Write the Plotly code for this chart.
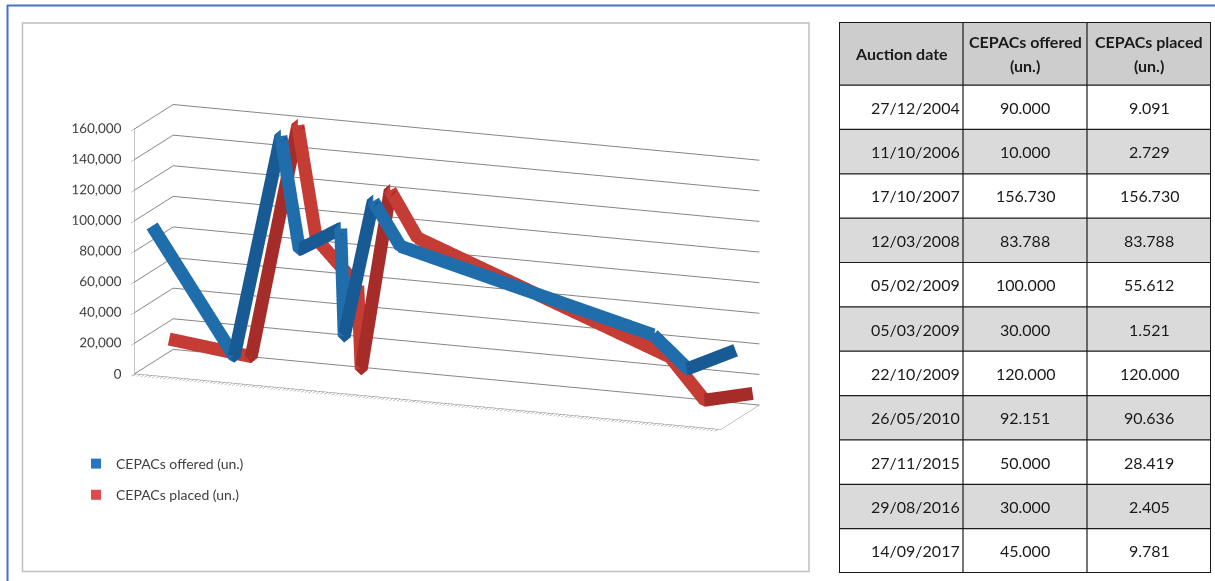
import numpy as np
import pandas as pd
import plotly.graph_objects as go

# Auction data
auction_dates = ["27/12/2004", "11/10/2006", "17/10/2007", "12/03/2008", "05/02/2009",
                 "05/03/2009", "22/10/2009", "26/05/2010", "27/11/2015", "29/08/2016",
                 "14/09/2017"]
cepacs_offered = [90000, 10000, 156730, 83788, 100000, 30000, 120000, 92151, 50000, 30000, 45000]
cepacs_placed = [9091, 2729, 156730, 83788, 55612, 1521, 120000, 90636, 28419, 2405, 9781]
series_names = ["CEPACs offered (un.)", "CEPACs placed (un.)"]
table_headers = [["Auction date"], ["CEPACs offered", "(un.)"], ["CEPACs placed", "(un.)"]]
value_ticks = [0, 20000, 40000, 60000, 80000, 100000, 120000, 140000, 160000]

W, H = 1215, 581
BLUE_LIGHT, BLUE_DARK = "#1f6dab", "#185a93"
RED_LIGHT, RED_DARK = "#c43c33", "#a52c28"
LEG_BLUE = "#2774c0"
LEG_RED = "#e04a4a"
FONT = "Lato, Calibri, sans-serif"
TXT = "#1a1a1a"
AXIS_TXT = "#404040"

# dates -> fractional years for a continuous time axis
d = pd.to_datetime(auction_dates, dayfirst=True)
t = (d.year + (d.dayofyear - 1) / (365 + d.is_leap_year.astype(int))).to_numpy()
t_lo, t_hi = t.min() - 0.03, t.max() + 0.03
depth_lo, depth_hi = -0.95, 1.32


def px(x):
    return x / W


def py(y):
    return 1 - y / H


def fmt(v):
    return f"{v:,}".replace(",", ".")


def shaded_path(xs, zs):
    """Split the polyline per segment so rising parts can be drawn darker."""
    xs, zs = np.asarray(xs, float), np.asarray(zs, float)
    px_, pz_, shade = [], [], []
    for k in range(len(xs) - 1):
        s = 1.0 if zs[k + 1] > zs[k] else 0.0
        px_ += [xs[k], xs[k + 1]]
        pz_ += [zs[k], zs[k + 1]]
        shade += [s, s]
    return px_, pz_, shade


fig = go.Figure()

# 3D ribbons, one depth row per series
for depth, vals, light, dark in [(1, cepacs_placed, RED_LIGHT, RED_DARK),
                                 (0, cepacs_offered, BLUE_LIGHT, BLUE_DARK)]:
    xs, zs, shade = shaded_path(t, vals)
    fig.add_trace(go.Scatter3d(
        x=xs, y=[depth] * len(xs), z=zs, mode="lines",
        line=dict(color=shade, colorscale=[[0, light], [1, dark]], cmin=0, cmax=1,
                  width=26),
        showlegend=False, hoverinfo="skip", scene="scene"))

# value-axis labels along the front-left vertical edge of the box
fig.add_trace(go.Scatter3d(
    x=[t_lo] * len(value_ticks), y=[depth_lo] * len(value_ticks), z=value_ticks,
    mode="text", text=[f"{v:,}" for v in value_ticks], textposition="middle left",
    textfont=dict(family=FONT, size=13.5, color=AXIS_TXT),
    showlegend=False, hoverinfo="skip", scene="scene"))

# legend entries with square swatches
for name, col, grp in [(series_names[0], LEG_BLUE, "a"), (series_names[1], LEG_RED, "b")]:
    fig.add_trace(go.Scatter(x=[None], y=[None], mode="markers", name=name,
                             legendgroup=grp,
                             marker=dict(symbol="square", size=10, color=col)))

# ---- data table on its own hidden cartesian axes ----
n_rows = len(auction_dates)
head_h = 63 / 44.3          # header height in row units
shapes = []
annotations = []
col_values = [auction_dates, [fmt(v) for v in cepacs_offered], [fmt(v) for v in cepacs_placed]]

shapes.append(dict(type="rect", xref="x2", yref="y2", x0=0, x1=3, y0=-head_h, y1=0,
                   fillcolor="#cdcdcd", line=dict(width=0), layer="below"))
for i in range(n_rows):
    if i % 2 == 1:
        shapes.append(dict(type="rect", xref="x2", yref="y2", x0=0, x1=3, y0=i, y1=i + 1,
                           fillcolor="#dadada", line=dict(width=0), layer="below"))
for i in range(n_rows):
    shapes.append(dict(type="line", xref="x2", yref="y2", x0=0, x1=3, y0=i, y1=i,
                       line=dict(color=TXT, width=1.2)))
for c in (1, 2):
    shapes.append(dict(type="line", xref="x2", yref="y2", x0=c, x1=c, y0=-head_h,
                       y1=n_rows, line=dict(color=TXT, width=1.2)))
shapes.append(dict(type="rect", xref="x2", yref="y2", x0=0, x1=3, y0=-head_h, y1=n_rows,
                   line=dict(color=TXT, width=2)))

for c, lines in enumerate(table_headers):
    k = len(lines)
    for j, ln in enumerate(lines):
        yy = -head_h / 2 + (j - (k - 1) / 2) * 0.54
        annotations.append(dict(xref="x2", yref="y2", x=c + 0.5, y=yy, text=f"<b>{ln}</b>",
                                showarrow=False, xanchor="center", yanchor="middle",
                                font=dict(family=FONT, size=16, color=TXT)))
for c, vals in enumerate(col_values):
    for i, v in enumerate(vals):
        if c == 0:
            ax, xa = 0.99, "right"
        else:
            ax, xa = c + 0.5, "center"
        annotations.append(dict(xref="x2", yref="y2", x=ax, y=i + 0.5, text=v,
                                showarrow=False, xanchor=xa, yanchor="middle",
                                font=dict(family=FONT, size=16, color=TXT)))

# frame decorations
shapes += [
    dict(type="rect", xref="paper", yref="paper", x0=px(22.5), x1=px(809),
         y0=py(571.5), y1=py(23), line=dict(color="#bfbfbf", width=1.5)),
    dict(type="line", xref="paper", yref="paper", x0=px(7), x1=1,
         y0=py(5.5), y1=py(5.5), line=dict(color="#4a6fc9", width=2)),
    dict(type="line", xref="paper", yref="paper", x0=px(7.5), x1=px(7.5),
         y0=py(5), y1=0, line=dict(color="#4a6fc9", width=2)),
]

axis_common = dict(showspikes=False, zeroline=False, title=dict(text=""),
                   showbackground=False)

view_dir = np.array([0.3506, -0.9039, 0.245])
eye = 2.87 * view_dir

fig.update_layout(
    width=W, height=H, margin=dict(l=0, r=0, t=0, b=0),
    paper_bgcolor="white", plot_bgcolor="white",
    font=dict(family=FONT, color=AXIS_TXT),
    xaxis=dict(visible=False, domain=[0, 0.05]), yaxis=dict(visible=False, domain=[0, 0.05]),
    xaxis2=dict(visible=False, domain=[px(839), px(1211)], range=[0, 3], fixedrange=True),
    yaxis2=dict(visible=False, domain=[py(573), py(22)], range=[n_rows, -head_h],
                fixedrange=True),
    showlegend=True,
    legend=dict(x=px(76), y=py(448), xanchor="left", yanchor="top",
                bgcolor="rgba(0,0,0,0)", tracegroupgap=10,
                font=dict(family=FONT, size=14, color=AXIS_TXT)),
    scene=dict(
        domain=dict(x=[px(9.5), px(883.5)], y=[py(534), 1]),
        xaxis=dict(range=[t_lo, t_hi], showgrid=False, showticklabels=False,
                   ticks="outside", tick0=2005, dtick=1 / 12, ticklen=5,
                   tickcolor="#595959", showline=True, linecolor="#8a8a8a",
                   **axis_common),
        yaxis=dict(range=[depth_lo, depth_hi], showgrid=False, showticklabels=False,
                   ticks="", showline=True, linecolor="#8a8a8a", **axis_common),
        zaxis=dict(range=[0, 160000], tickvals=value_ticks, showticklabels=False,
                   gridcolor="#858585", gridwidth=2, showline=True,
                   linecolor="#8a8a8a", ticks="outside", ticklen=3,
                   tickcolor="#8a8a8a", **axis_common),
        aspectmode="manual", aspectratio=dict(x=2.355, y=0.40, z=0.946),
        camera=dict(eye=dict(x=eye[0], y=eye[1], z=eye[2]),
                    center=dict(x=0, y=0, z=0), up=dict(x=0, y=0, z=1),
                    projection=dict(type="orthographic")),
        bgcolor="rgba(0,0,0,0)",
    ),
    shapes=shapes,
    annotations=annotations,
)

fig.write_html("out.html")
